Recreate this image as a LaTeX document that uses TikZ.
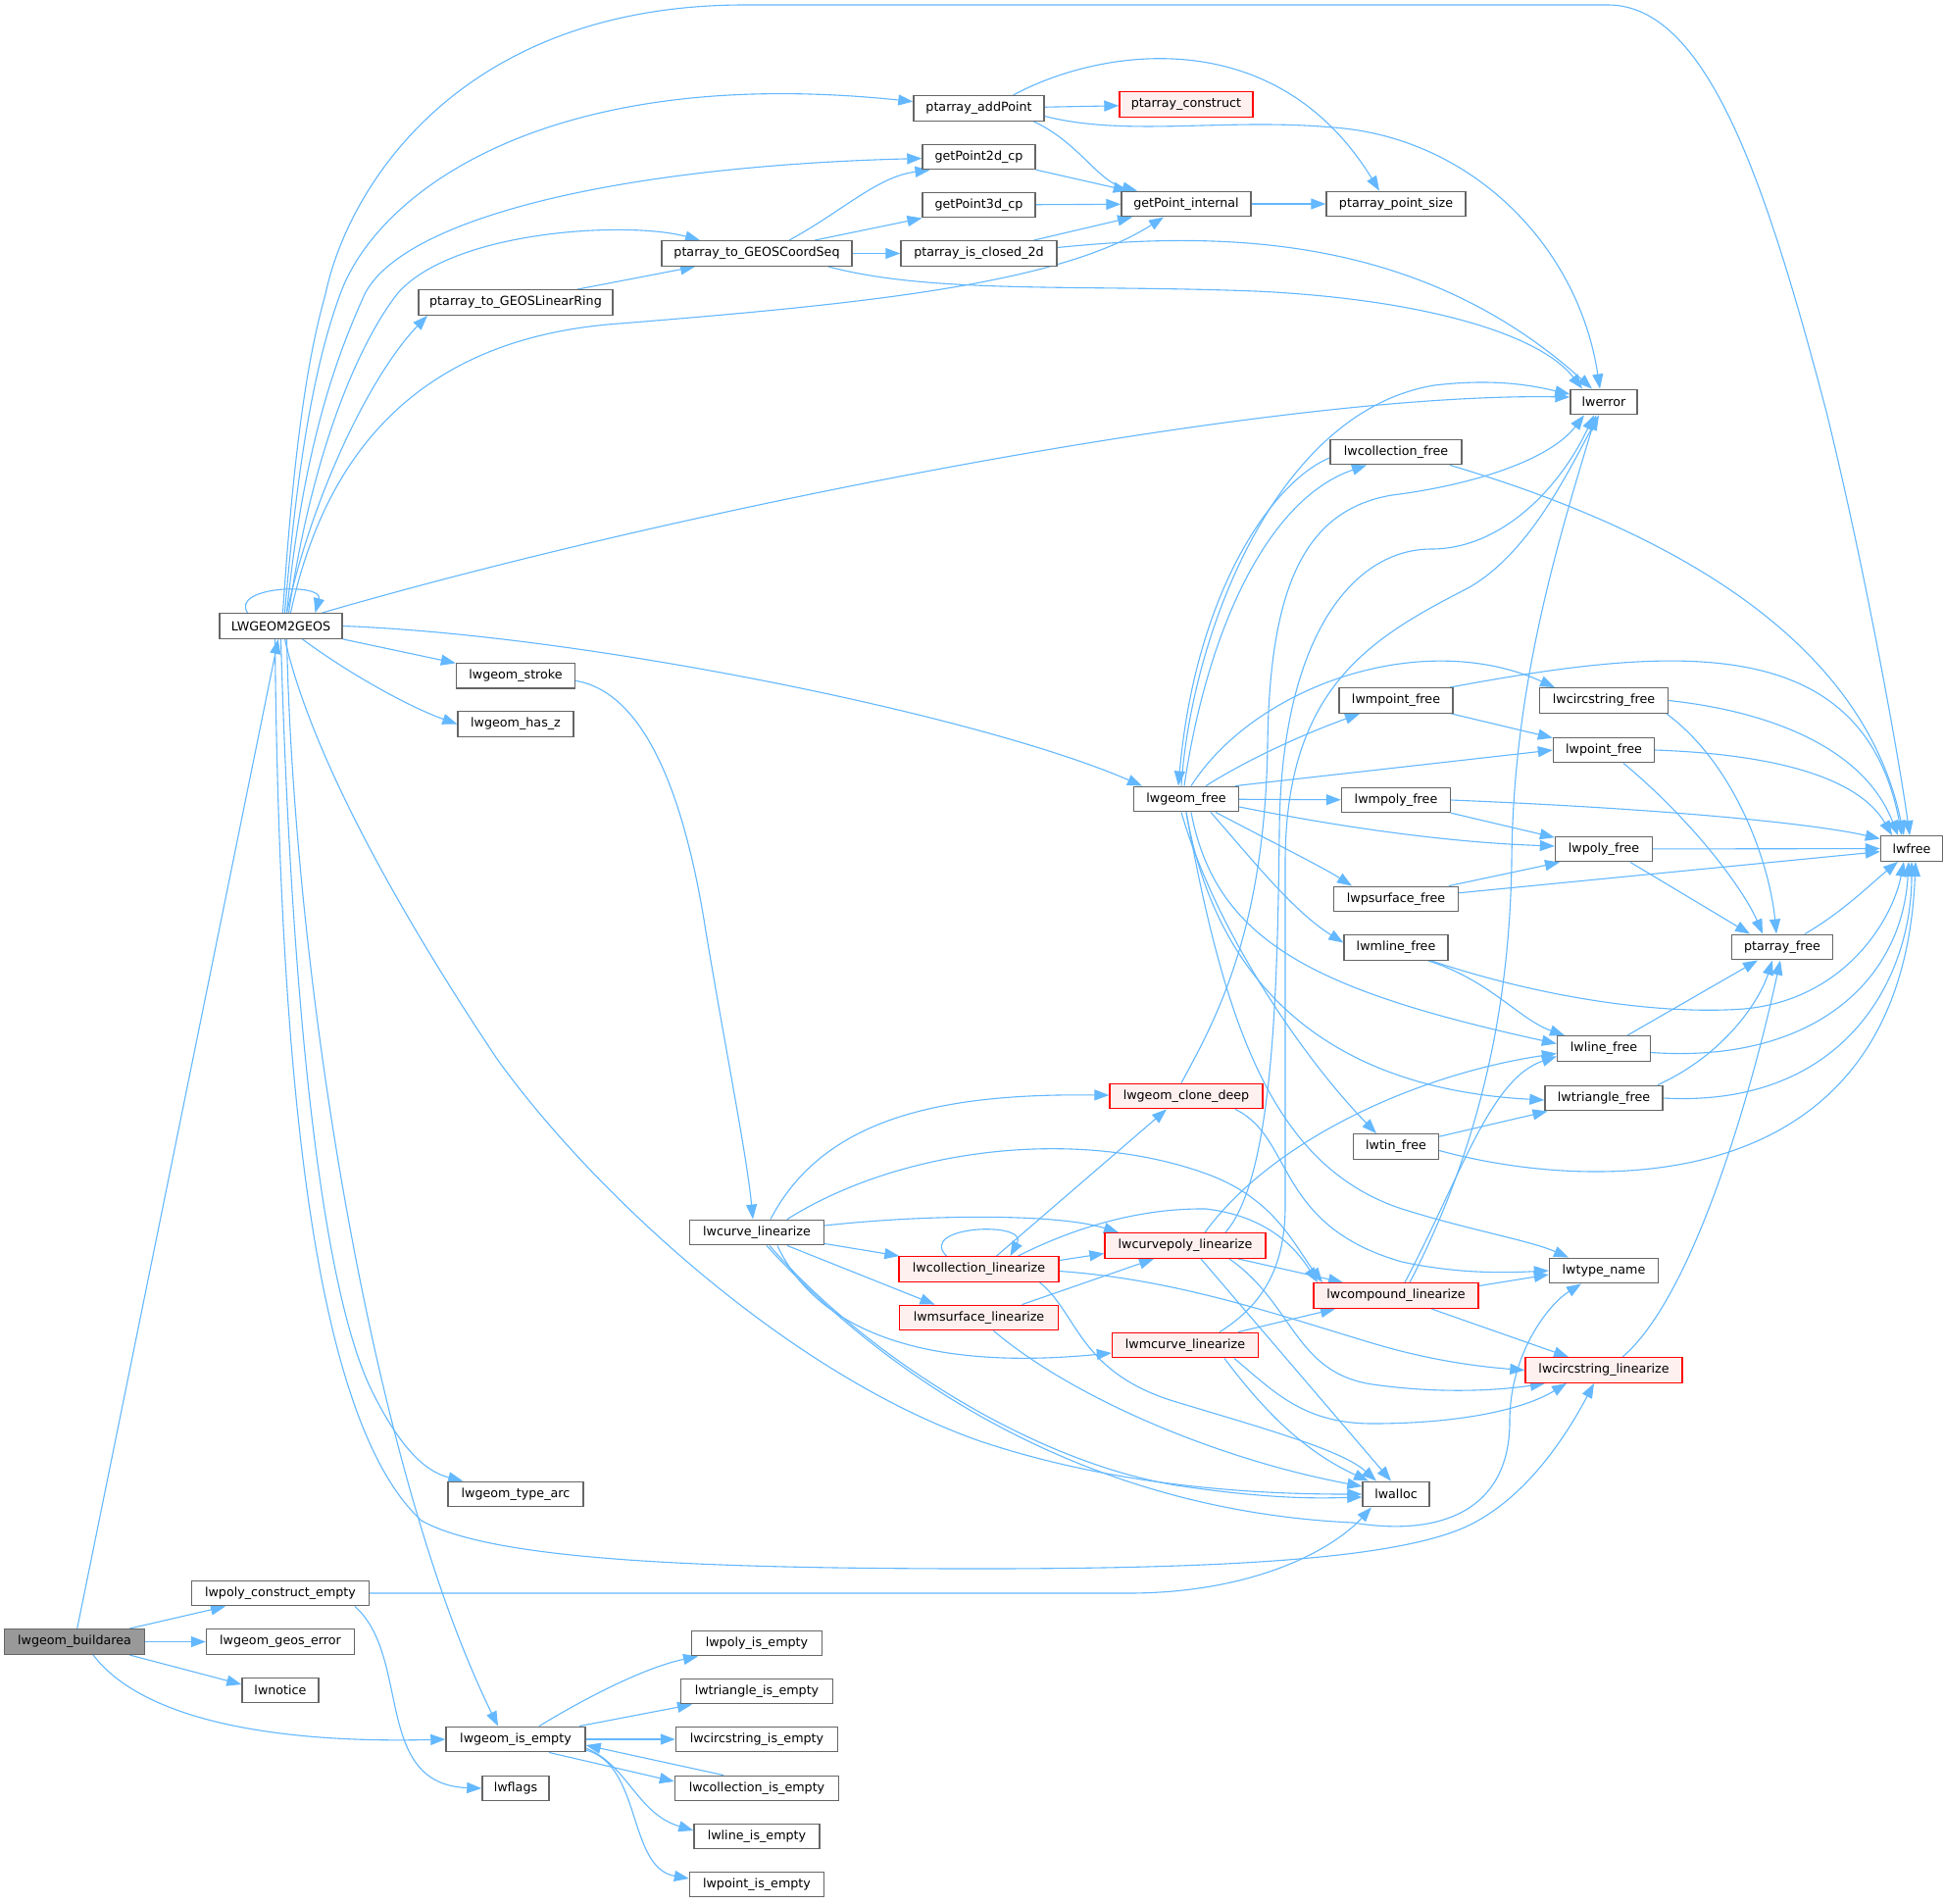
\documentclass[tikz,border=0pt]{standalone}
\usepackage{fontspec}
\setmainfont{DejaVu Sans}
\usetikzlibrary{arrows.meta,backgrounds,calc}
\definecolor{edgec}{HTML}{63B8FF}
\definecolor{bordc}{HTML}{666666}
\definecolor{redfill}{HTML}{FFF0F0}
\definecolor{redbord}{HTML}{FF0000}
\definecolor{greyfill}{HTML}{999999}
\tikzset{
  nd/.style={draw=bordc, fill=white, line width=1.4pt, minimum height=25.5pt, inner sep=0pt, text=black, font=\fontsize{12.7}{15}\selectfont},
  rd/.style={nd, draw=redbord, fill=redfill},
  gd/.style={nd, fill=greyfill},
  e/.style={draw=edgec, line width=1.1pt, -{Triangle[length=15pt,width=11pt]}},
}
\begin{document}
\begin{tikzpicture}[x=1pt,y=-1pt]
\useasboundingbox (0,0) rectangle (1983,1941);
% column 0/1
\node[gd, minimum width=143pt] (buildarea) at (76,1674.5) {lwgeom\_buildarea};
\node[nd, minimum width=125pt] (lwgeomtogeos) at (286.5,638.5) {LWGEOM2GEOS};
\node[nd, minimum width=181pt] (lwpolyce) at (286,1625) {lwpoly\_construct\_empty};
\node[nd, minimum width=151pt] (geoserr) at (286,1674.5) {lwgeom\_geos\_error};
\node[nd, minimum width=78pt] (lwnotice) at (286,1724) {lwnotice};
% column 2
\node[nd, minimum width=198pt] (linring) at (526,308.5) {ptarray\_to\_GEOSLinearRing};
\node[nd, minimum width=121pt] (stroke) at (526,689.3) {lwgeom\_stroke};
\node[nd, minimum width=118pt] (hasz) at (526,738.5) {lwgeom\_has\_z};
\node[nd, minimum width=138pt] (typearc) at (526,1524) {lwgeom\_type\_arc};
\node[nd, minimum width=142pt] (isempty) at (526,1774) {lwgeom\_is\_empty};
\node[nd, minimum width=68pt] (lwflags) at (526,1824) {lwflags};
% column 3
\node[nd, minimum width=194pt] (coordseq) at (772,258.5) {ptarray\_to\_GEOSCoordSeq};
\node[nd, minimum width=137pt] (curvelin) at (772,1257) {lwcurve\_linearize};
\node[nd, minimum width=133pt] (polyie) at (772,1676) {lwpoly\_is\_empty};
\node[nd, minimum width=155pt] (triie) at (772,1725) {lwtriangle\_is\_empty};
\node[nd, minimum width=165pt] (circie) at (772,1774) {lwcircstring\_is\_empty};
\node[nd, minimum width=167pt] (collie) at (772,1824) {lwcollection\_is\_empty};
\node[nd, minimum width=128pt] (lineie) at (772,1873) {lwline\_is\_empty};
\node[nd, minimum width=137pt] (pointie) at (772,1922) {lwpoint\_is\_empty};
% column 4
\node[nd, minimum width=133pt] (addpoint) at (998.5,110.5) {ptarray\_addPoint};
\node[nd, minimum width=115pt] (gp2d) at (998.5,160) {getPoint2d\_cp};
\node[nd, minimum width=115pt] (gp3d) at (998.5,209) {getPoint3d\_cp};
\node[nd, minimum width=159pt] (closed) at (998.5,258.5) {ptarray\_is\_closed\_2d};
\node[rd, minimum width=163pt] (colllin) at (998.5,1294.5) {lwcollection\_linearize};
\node[rd, minimum width=162pt] (msurflin) at (998.5,1344) {lwmsurface\_linearize};
% column 5
\node[rd, minimum width=136pt] (construct) at (1210,106.5) {ptarray\_construct};
\node[nd, minimum width=132pt] (gpint) at (1210,208) {getPoint\_internal};
\node[nd, minimum width=107pt] (geomfree) at (1210,815) {lwgeom\_free};
\node[rd, minimum width=156pt] (clonedeep) at (1210,1118) {lwgeom\_clone\_deep};
\node[rd, minimum width=164pt] (cpolylin) at (1209,1270.5) {lwcurvepoly\_linearize};
\node[rd, minimum width=149pt] (mcurvelin) at (1209,1372) {lwmcurve\_linearize};
% column 6
\node[nd, minimum width=142pt] (ptsize) at (1424,208) {ptarray\_point\_size};
\node[nd, minimum width=134pt] (collfree) at (1424,461) {lwcollection\_free};
\node[nd, minimum width=116pt] (mpointfree) at (1424,714.5) {lwmpoint\_free};
\node[nd, minimum width=111pt] (mpolyfree) at (1424,816) {lwmpoly\_free};
\node[nd, minimum width=127pt] (psurffree) at (1424,917) {lwpsurface\_free};
\node[nd, minimum width=106pt] (mlinefree) at (1424,966.5) {lwmline\_free};
\node[nd, minimum width=87pt] (tinfree) at (1424,1169.5) {lwtin\_free};
\node[rd, minimum width=168pt] (complin) at (1424,1321.5) {lwcompound\_linearize};
\node[nd, minimum width=68pt] (lwalloc) at (1424,1524) {lwalloc};
% column 7
\node[nd, minimum width=68pt] (lwerror) at (1636,410) {lwerror};
\node[nd, minimum width=131pt] (circfree) at (1636,714.5) {lwcircstring\_free};
\node[nd, minimum width=103pt] (pointfree) at (1636,765) {lwpoint\_free};
\node[nd, minimum width=99pt] (polyfree) at (1636,866) {lwpoly\_free};
\node[nd, minimum width=95pt] (linefree) at (1636,1069.5) {lwline\_free};
\node[nd, minimum width=120pt] (trifree) at (1636,1120) {lwtriangle\_free};
\node[nd, minimum width=111pt] (typename) at (1636,1296) {lwtype\_name};
\node[rd, minimum width=160pt] (circlin) at (1636,1397.5) {lwcircstring\_linearize};
% column 8/9
\node[nd, minimum width=103pt] (ptfree) at (1818,966) {ptarray\_free};
\node[nd, minimum width=63pt] (lwfree) at (1950,865.5) {lwfree};

\begin{scope}[on background layer]
\fill[white] (0,0) rectangle (1983,1941);
% buildarea
\draw[e] (buildarea) -- (lwgeomtogeos);
\draw[e] ([xshift=56]buildarea.north) -- ([xshift=-56]lwpolyce.south);
\draw[e] (buildarea) -- (geoserr);
\draw[e] ([xshift=56]buildarea.south) -- ([yshift=6]lwnotice.west);
\draw[e] ([xshift=19]buildarea.south) .. controls (150,1760) and (300,1778) .. (isempty.west);
% LWGEOM2GEOS
\draw[e] ([xshift=-34]lwgeomtogeos.north) .. controls (235,598) and (330,594) .. ([xshift=35]lwgeomtogeos.north);
\draw[e] ([xshift=2]lwgeomtogeos.north) .. controls (300,450) and (315,360) .. (332,300) .. controls (355,190) and (470,5) .. (760,5) -- (1640,5) .. controls (1740,5) and (1800,180) .. (1863,420) .. controls (1900,570) and (1935,760) .. (lwfree);
\draw[e] ([xshift=4]lwgeomtogeos.north) .. controls (305,450) and (325,360) .. (347,300) .. controls (385,195) and (560,65) .. (addpoint);
\draw[e] ([xshift=6]lwgeomtogeos.north) .. controls (310,450) and (345,360) .. (372,300) .. controls (410,225) and (620,170) .. (gp2d);
\draw[e] ([xshift=8]lwgeomtogeos.north) .. controls (320,450) and (370,345) .. (405,300) .. controls (460,235) and (640,225) .. ([xshift=-58]coordseq.north);
\draw[e] ([xshift=6]lwgeomtogeos.north) .. controls (320,500) and (380,380) .. ([xshift=-90]linring.south);
\draw[e] ([xshift=10]lwgeomtogeos.north) .. controls (330,470) and (420,345) .. (632,330) .. controls (880,310) and (1080,290) .. ([xshift=-23]gpint.south);
\draw[e] ([xshift=42]lwgeomtogeos.north) .. controls (700,517) and (1300,400) .. ([yshift=5]lwerror.west);
\draw[e] (lwgeomtogeos) -- (stroke);
\draw[e] ([xshift=22]lwgeomtogeos.south) .. controls (360,690) and (420,722) .. (hasz.west);
\draw[e] (lwgeomtogeos.east) .. controls (600,648) and (1000,730) .. ([xshift=-45]geomfree.north);
\draw[e] ([xshift=4]lwgeomtogeos.south) .. controls (320,780) and (420,950) .. (507,1080) .. controls (600,1210) and (800,1400) .. (1000,1470) .. controls (1150,1520) and (1300,1524) .. (lwalloc.west);
\draw[e] (lwgeomtogeos.south) .. controls (295,950) and (320,1300) .. (380,1420) .. controls (405,1470) and (430,1500) .. (typearc);
\draw[e] ([xshift=-6]lwgeomtogeos.south) .. controls (285,1100) and (320,1450) .. (430,1551) .. controls (500,1590) and (700,1600) .. (1000,1600) .. controls (1250,1600) and (1430,1590) .. (1500,1555) .. controls (1560,1525) and (1600,1460) .. ([xshift=-10]circlin.south);
\draw[e] ([xshift=6]lwgeomtogeos.south) .. controls (300,1000) and (380,1500) .. ([xshift=-18]isempty.north);
% lwpoly_construct_empty
\draw[e] (lwpolyce.east) -- (1150,1625) .. controls (1280,1625) and (1360,1580) .. ([xshift=-25]lwalloc.south);
\draw[e] ([xshift=76]lwpolyce.south) .. controls (420,1690) and (380,1820) .. (lwflags.west);
% lwgeom_is_empty
\draw[e] ([xshift=24]isempty.north) .. controls (600,1730) and (660,1700) .. ([xshift=-60]polyie.south);
\draw[e] ([xshift=65]isempty.north) -- ([xshift=-66]triie.south);
\draw[e] (isempty) -- (circie);
\draw[e] ([xshift=34]isempty.south) -- ([yshift=7]collie.west);
\draw[e] ([xshift=-34]collie.north) -- ([yshift=-6]isempty.east);
\draw[e] ([yshift=-9]isempty.east) .. controls (640,1800) and (650,1850) .. ([yshift=6]lineie.west);
\draw[e] ([yshift=-11]isempty.east) .. controls (655,1800) and (640,1905) .. ([yshift=6]pointie.west);
% ptarray
\draw[e] ([xshift=63]linring.north) -- ([xshift=-63]coordseq.south);
\draw[e] ([xshift=33]coordseq.north) .. controls (860,215) and (895,180) .. ([xshift=-50]gp2d.south);
\draw[e] ([xshift=59]coordseq.north) -- ([xshift=-58]gp3d.south);
\draw[e] (coordseq) -- (closed);
\draw[e] ([xshift=73]coordseq.south) .. controls (950,300) and (1100,290) .. (1281,297) .. controls (1450,305) and (1570,340) .. ([xshift=-22]lwerror.north);
\draw[e] (addpoint) -- (construct);
\draw[e] ([xshift=35]addpoint.north) .. controls (1120,50) and (1300,20) .. ([xshift=-17]ptsize.north);
\draw[e] ([xshift=56]addpoint.south) .. controls (1100,145) and (1120,185) .. ([xshift=-50]gpint.north);
\draw[e] ([yshift=-8]addpoint.east) .. controls (1150,140) and (1250,120) .. (1360,130) .. controls (1500,140) and (1610,250) .. ([xshift=-4]lwerror.north);
\draw[e] (gp2d) -- (gpint);
\draw[e] (gp3d) -- (gpint);
\draw[e] ([xshift=56]closed.north) -- ([xshift=-55]gpint.south);
\draw[e] ([yshift=6]closed.east) .. controls (1250,235) and (1450,240) .. ([xshift=-12]lwerror.north);
\draw[e] (gpint) -- (ptsize);
% stroke
\draw[e] ([yshift=-5]stroke.east) .. controls (650,705) and (695,790) .. (720,950) .. controls (740,1070) and (762,1180) .. ([xshift=-4]curvelin.north);
% lwgeom_free
\draw[e] ([xshift=-5]geomfree.north) .. controls (1215,650) and (1300,420) .. (1463,393) .. controls (1530,385) and (1570,395) .. ([yshift=8]lwerror.west);
\draw[e] ([xshift=-2]geomfree.north) .. controls (1230,650) and (1290,510) .. ([xshift=-30]collfree.south);
\draw[e] ([yshift=-6]collfree.west) .. controls (1300,490) and (1220,600) .. ([xshift=-8]geomfree.north);
\draw[e] ([xshift=20]geomfree.north) .. controls (1280,770) and (1340,745) .. ([xshift=-37]mpointfree.south);
\draw[e] ([xshift=5]geomfree.north) .. controls (1280,700) and (1450,640) .. ([xshift=-50]circfree.north);
\draw[e] ([xshift=50]geomfree.north) -- (pointfree.west);
\draw[e] (geomfree) -- (mpolyfree);
\draw[e] ([yshift=-8]geomfree.east) .. controls (1400,850) and (1500,860) .. ([yshift=3]polyfree.west);
\draw[e] ([xshift=30]geomfree.south) .. controls (1300,860) and (1350,885) .. ([xshift=-45]psurffree.north);
\draw[e] ([xshift=25]geomfree.south) .. controls (1280,880) and (1320,930) .. ([yshift=5]mlinefree.west);
\draw[e] ([xshift=5]geomfree.south) .. controls (1240,960) and (1340,1010) .. ([yshift=5]linefree.west);
\draw[e] (geomfree.south) .. controls (1240,1000) and (1350,1110) .. ([yshift=-2]trifree.west);
\draw[e] ([xshift=-5]geomfree.south) .. controls (1240,950) and (1330,1080) .. ([xshift=-20]tinfree.north);
\draw[e] (geomfree.south) .. controls (1250,1050) and (1300,1190) .. (1430,1233) .. controls (1500,1255) and (1560,1265) .. ([xshift=-36]typename.north);
% free functions
\draw[e] ([xshift=55]collfree.south) .. controls (1700,540) and (1900,650) .. ([xshift=-8]lwfree.north);
\draw[e] (mpointfree) -- (pointfree);
\draw[e] ([xshift=55]mpointfree.north) .. controls (1700,660) and (1900,640) .. ([xshift=-10]lwfree.north);
\draw[e] (circfree.east) .. controls (1800,725) and (1900,760) .. ([xshift=-14]lwfree.north);
\draw[e] ([xshift=64]circfree.south) .. controls (1770,780) and (1805,880) .. ([xshift=-6]ptfree.north);
\draw[e] (pointfree.east) .. controls (1830,770) and (1900,800) .. ([xshift=-20]lwfree.north);
\draw[e] ([xshift=20]pointfree.south) .. controls (1730,840) and (1780,910) .. ([xshift=-20]ptfree.north);
\draw[e] (mpolyfree) -- (polyfree);
\draw[e] (mpolyfree.east) .. controls (1700,825) and (1850,840) .. ([yshift=10]lwfree.west);
\draw[e] (polyfree) -- (lwfree);
\draw[e] ([xshift=27]polyfree.south) -- ([xshift=-33]ptfree.north);
\draw[e] ([xshift=54]psurffree.north) -- ([xshift=-45]polyfree.south);
\draw[e] (psurffree) -- (lwfree);
\draw[e] ([xshift=33]mlinefree.south) .. controls (1520,1000) and (1550,1040) .. ([xshift=-40]linefree.north);
\draw[e] ([xshift=36]mlinefree.south) .. controls (1580,1020) and (1700,1035) .. (1779,1029) .. controls (1880,1020) and (1930,940) .. ([xshift=-8]lwfree.south);
\draw[e] ([xshift=23]ptfree.north) .. controls (1880,930) and (1910,900) .. ([xshift=-14]lwfree.south);
\draw[e] ([xshift=24]linefree.north) -- ([xshift=-25]ptfree.south);
\draw[e] ([yshift=-4]linefree.east) .. controls (1850,1085) and (1940,1000) .. ([xshift=-3]lwfree.south);
\draw[e] ([xshift=55]trifree.north) .. controls (1760,1075) and (1795,1020) .. ([xshift=-10]ptfree.south);
\draw[e] (trifree.east) .. controls (1880,1130) and (1950,1000) .. (lwfree.south);
\draw[e] (tinfree) -- (trifree);
\draw[e] ([yshift=-4]tinfree.east) .. controls (1620,1215) and (1940,1230) .. ([xshift=4]lwfree.south);
\draw[e] ([xshift=19]circlin.north) .. controls (1730,1320) and (1790,1100) .. ([xshift=-2]ptfree.south);
% lwcurve_linearize
\draw[e] ([xshift=14]curvelin.north) .. controls (840,1140) and (960,1115) .. (clonedeep);
\draw[e] ([xshift=31]curvelin.north) .. controls (920,1170) and (1100,1150) .. (1230,1197) .. controls (1300,1222) and (1320,1270) .. ([xshift=-75]complin.north);
\draw[e] ([yshift=7]curvelin.east) .. controls (950,1238) and (1080,1238) .. ([xshift=-68]cpolylin.north);
\draw[e] (curvelin) -- (colllin);
\draw[e] ([xshift=31]curvelin.south) -- ([xshift=-45]msurflin.north);
\draw[e] ([xshift=21]curvelin.south) .. controls (830,1350) and (930,1400) .. ([yshift=-8]mcurvelin.west);
\draw[e] ([xshift=13]curvelin.south) .. controls (880,1380) and (1050,1490) .. (1200,1515) .. controls (1300,1530) and (1350,1528) .. ([yshift=-3]lwalloc.west);
\draw[e] ([xshift=10]curvelin.south) .. controls (900,1400) and (1100,1540) .. (1380,1553) .. controls (1470,1568) and (1540,1540) .. (1540,1450) .. controls (1540,1380) and (1580,1330) .. ([xshift=-23]typename.south);
% lwcollection_linearize
\draw[e] ([xshift=-33]colllin.north) .. controls (935,1250) and (1050,1245) .. ([xshift=32]colllin.north);
\draw[e] ([xshift=18]colllin.north) -- ([xshift=-20]clonedeep.south);
\draw[e] ([yshift=9]colllin.east) -- ([yshift=-8]cpolylin.west);
\draw[e] ([xshift=40]colllin.north) .. controls (1080,1260) and (1150,1232) .. (1230,1233) .. controls (1290,1240) and (1320,1270) .. ([xshift=-80]complin.north);
\draw[e] ([yshift=-2]colllin.east) .. controls (1200,1305) and (1300,1340) .. (1400,1370) .. controls (1460,1388) and (1510,1394) .. (circlin.west);
\draw[e] ([xshift=62]colllin.south) .. controls (1100,1340) and (1100,1400) .. (1200,1430) .. controls (1300,1460) and (1370,1480) .. ([xshift=-20]lwalloc.north);
% lwmsurface_linearize
\draw[e] ([xshift=44]msurflin.north) -- ([xshift=-32]cpolylin.south);
\draw[e] ([xshift=15]msurflin.south) .. controls (1100,1430) and (1250,1490) .. ([yshift=8]lwalloc.west);
% lwcurvepoly_linearize
\draw[e] ([xshift=20]cpolylin.north) .. controls (1300,1160) and (1450,1095) .. ([yshift=-5]linefree.west);
\draw[e] ([xshift=54]cpolylin.south) -- ([xshift=-54]complin.north);
\draw[e] ([xshift=45]cpolylin.south) .. controls (1320,1330) and (1320,1400) .. (1400,1412) .. controls (1470,1422) and (1530,1418) .. ([xshift=-60]circlin.south);
\draw[e] ([xshift=16]cpolylin.south) -- ([xshift=-5]lwalloc.north);
\draw[e] ([xshift=41]cpolylin.north) .. controls (1300,1200) and (1303,1000) .. (1305,850) .. controls (1306,650) and (1380,560) .. (1460,560) .. controls (1530,560) and (1590,500) .. ([xshift=-10]lwerror.south);
% lwmcurve_linearize
\draw[e] ([xshift=35]mcurvelin.north) .. controls (1290,1330) and (1311,1290) .. (1311,1230) -- (1311,880) .. controls (1311,700) and (1400,650) .. (1497,600) .. controls (1560,565) and (1600,480) .. ([xshift=-5]lwerror.south);
\draw[e] ([xshift=54]mcurvelin.north) -- ([xshift=-62]complin.south);
\draw[e] ([xshift=50]mcurvelin.south) .. controls (1300,1420) and (1330,1452) .. (1400,1452) .. controls (1480,1452) and (1550,1440) .. ([xshift=-38]circlin.south);
\draw[e] ([xshift=40]mcurvelin.south) .. controls (1290,1440) and (1330,1480) .. ([xshift=-28]lwalloc.north);
% lwcompound_linearize
\draw[e] ([xshift=14]complin.north) .. controls (1520,1150) and (1540,1000) .. (1542,880) .. controls (1543,700) and (1590,550) .. ([xshift=-8]lwerror.south);
\draw[e] ([xshift=9]complin.north) .. controls (1490,1200) and (1520,1100) .. ([yshift=-8]linefree.west);
\draw[e] ([yshift=10]complin.east) -- ([yshift=-4]typename.west);
\draw[e] ([xshift=36]complin.south) -- ([xshift=-36]circlin.north);
% lwgeom_clone_deep
\draw[e] ([xshift=-5]clonedeep.north) .. controls (1240,1040) and (1290,950) .. (1293,760) .. controls (1295,600) and (1330,520) .. (1420,505) .. controls (1500,495) and (1580,470) .. ([xshift=-20]lwerror.south);
\draw[e] ([xshift=50]clonedeep.south) .. controls (1320,1160) and (1300,1250) .. (1430,1287) .. controls (1490,1300) and (1540,1298) .. (typename.west);
\end{scope}
\end{tikzpicture}
\end{document}
